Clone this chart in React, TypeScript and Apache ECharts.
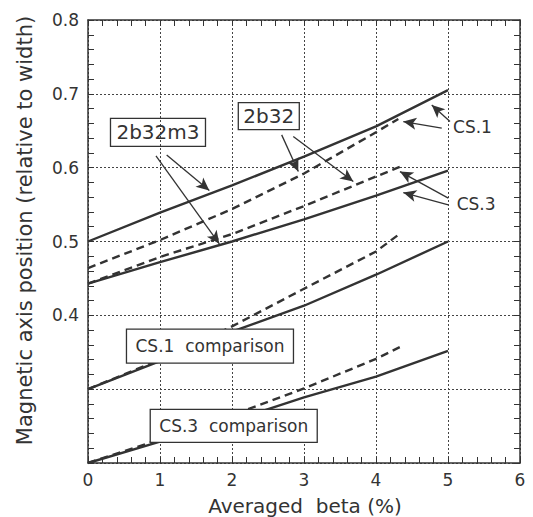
import React, { useEffect, useRef } from "react";
import * as echarts from "echarts";

// ---- data ----
const betaFull = [0, 1, 2, 3, 4, 5];
const cs1_2b32m3 = [0.5, 0.539, 0.576, 0.615, 0.656, 0.705];
const cs1_2b32_beta = [0, 1, 2, 3, 4, 4.31];
const cs1_2b32 = [0.464, 0.502, 0.544, 0.592, 0.648, 0.666];
const cs3_2b32m3 = [0.443, 0.472, 0.5, 0.53, 0.562, 0.596];
const cs3_2b32_beta = [0, 1, 2, 3, 4, 4.33];
const cs3_2b32 = [0.443, 0.479, 0.51, 0.548, 0.588, 0.601];
const cs1cmp_solid = [0.3, 0.338, 0.378, 0.413, 0.455, 0.5];
const cs1cmp_dashed = [0.3, 0.34, 0.385, 0.436, 0.4865, 0.509];
const cs3cmp_solid = [0.2, 0.229, 0.257, 0.289, 0.317, 0.352];
const cs3cmp_dashed = [0.2, 0.232, 0.265, 0.301, 0.341, 0.357];

const yLabelled = [0.4, 0.5, 0.6, 0.7, 0.8];

const xTitle = "Averaged  beta (%)";
const yTitle = "Magnetic axis position (relative to width)";

// annotation anchors, in data coordinates
const boxLabels = [
  { text: "2b32m3", at: [0.972, 0.6478] },
  { text: "2b32", at: [2.511, 0.6697] },
  { text: "CS.1  comparison", at: [1.694, 0.3584] },
  { text: "CS.3  comparison", at: [2.024, 0.2502] },
];
const freeLabels = [
  { text: "CS.1", at: [5.07, 0.6556] },
  { text: "CS.3", at: [5.12, 0.551] },
];
const arrows: number[][][] = [
  [[1.093, 0.6173], [1.685, 0.569]],
  [[0.944, 0.616], [1.824, 0.4969]],
  [[2.69, 0.6444], [2.921, 0.5947]],
  [[2.851, 0.6421], [3.685, 0.5812]],
  [[5.028, 0.6624], [4.774, 0.685]],
  [[4.913, 0.6535], [4.379, 0.6624]],
  [[5.004, 0.5587], [4.333, 0.5947]],
  [[5.004, 0.5497], [4.379, 0.5663]],
];

const FONT = "DejaVu Sans";
const INK = "#333";

function pairs(xs: number[], ys: number[]) {
  return xs.map((x, i) => [x, ys[i]]);
}

export default function App() {
  const ref = useRef<HTMLDivElement>(null);
  useEffect(() => {
    if (!ref.current) return;
    const chart = echarts.init(ref.current, null, { renderer: "svg" });

    const solid = { color: INK, width: 2.4, type: "solid" as const };
    const dashed = { color: INK, width: 2.4, type: [8, 5] as any };
    const mk = (name: string, data: number[][], ls: any, extra: any = {}) => ({
      type: "line",
      name,
      data,
      showSymbol: false,
      symbol: "none",
      lineStyle: ls,
      itemStyle: { color: INK },
      z: 3,
      ...extra,
    });

    const baseX = {
      type: "value",
      min: 0,
      max: 6,
      interval: 1,
      axisLine: { show: true, onZero: false, lineStyle: { color: INK, width: 1.5 } },
      axisTick: { show: true, inside: true, length: 6, lineStyle: { color: INK, width: 1 } },
      minorTick: { show: true, splitNumber: 5, length: 6, lineStyle: { color: INK, width: 1 } },
    };
    const baseY = {
      type: "value",
      min: 0.2,
      max: 0.8,
      interval: 0.1,
      axisLine: { show: true, onZero: false, lineStyle: { color: INK, width: 1.5 } },
      axisTick: { show: true, inside: true, length: 6, lineStyle: { color: INK, width: 1 } },
      minorTick: { show: true, splitNumber: 5, length: 6, lineStyle: { color: INK, width: 1 } },
    };
    const grid = { type: [2, 2] as any, color: "#444", width: 1 };

    chart.setOption({
      animation: false,
      backgroundColor: "#fff",
      grid: { left: 88, right: 13, top: 20, bottom: 54, containLabel: false },
      xAxis: [
        {
          ...baseX,
          position: "bottom",
          splitLine: { show: true, lineStyle: grid },
          axisLabel: { fontSize: 17, color: INK, fontFamily: FONT, margin: 8 },
        },
        { ...baseX, position: "top", axisLabel: { show: false }, splitLine: { show: false } },
      ],
      yAxis: [
        {
          ...baseY,
          position: "left",
          splitLine: { show: true, lineStyle: grid },
          axisLabel: {
            fontSize: 17,
            color: INK,
            fontFamily: FONT,
            margin: 9,
            formatter: (v: number) => {
              const s = v.toFixed(1);
              return yLabelled.some((t) => t.toFixed(1) === s) ? s : "";
            },
          },
        },
        { ...baseY, position: "right", axisLabel: { show: false }, splitLine: { show: false } },
      ],
      series: [
        mk("CS.1 2b32m3", pairs(betaFull, cs1_2b32m3), solid, {
          markLine: {
            silent: true,
            symbol: ["none", "arrow"],
            symbolSize: [9, 13],
            label: { show: false },
            lineStyle: { color: INK, width: 1.3, type: "solid" },
            data: arrows.map((a) => [
              { coord: a[0], symbol: "none" },
              { coord: a[1], symbol: "arrow" },
            ]),
          },
        }),
        mk("CS.1 2b32", pairs(cs1_2b32_beta, cs1_2b32), dashed),
        mk("CS.3 2b32m3", pairs(betaFull, cs3_2b32m3), solid),
        mk("CS.3 2b32", pairs(cs3_2b32_beta, cs3_2b32), dashed),
        mk("CS.1 comparison solid", pairs(betaFull, cs1cmp_solid), solid),
        mk("CS.1 comparison dashed", pairs(cs1_2b32_beta, cs1cmp_dashed), dashed),
        mk("CS.3 comparison solid", pairs(betaFull, cs3cmp_solid), solid),
        mk("CS.3 comparison dashed", pairs(cs3_2b32_beta, cs3cmp_dashed), dashed),
      ],
    });

    const px = (p: number[]) => chart.convertToPixel({ xAxisIndex: 0, yAxisIndex: 0 }, p) as number[];
    const boxSizes: Record<string, { w: number; h: number; fill: string; fs: number }> = {
      "2b32m3": { w: 95, h: 28, fill: "transparent", fs: 20 },
      "2b32": { w: 61, h: 27, fill: "transparent", fs: 20 },
      "CS.1  comparison": { w: 167, h: 34, fill: "#fff", fs: 17 },
      "CS.3  comparison": { w: 167, h: 33, fill: "#fff", fs: 17 },
    };
    const graphics: any[] = [];
    boxLabels.forEach((b) => {
      const [cx, cy] = px(b.at);
      const s = boxSizes[b.text];
      graphics.push({
        type: "rect",
        z: 100,
        shape: { x: cx - s.w / 2, y: cy - s.h / 2, width: s.w, height: s.h },
        style: { fill: s.fill, stroke: INK, lineWidth: 1.3 },
      });
      graphics.push({
        type: "text",
        z: 101,
        x: cx,
        y: cy,
        style: { text: b.text, fontSize: s.fs, fontFamily: FONT, fill: INK, align: "center", verticalAlign: "middle" },
      });
    });
    freeLabels.forEach((l) => {
      const [x, y] = px(l.at);
      graphics.push({
        type: "text",
        z: 101,
        x,
        y,
        style: { text: l.text, fontSize: 17, fontFamily: FONT, fill: INK, align: "left", verticalAlign: "middle" },
      });
    });
    const [x0, yb] = px([0, 0.2]);
    const [x6, yt] = px([6, 0.8]);
    graphics.push({
      type: "text",
      z: 101,
      x: (x0 + x6) / 2 + 1,
      y: yb + 43,
      style: { text: xTitle, fontSize: 20, fontFamily: FONT, fill: INK, align: "center", verticalAlign: "middle" },
    });
    graphics.push({
      type: "text",
      z: 101,
      x: 24.5,
      y: (yb + yt) / 2 - 11,
      rotation: Math.PI / 2,
      style: { text: yTitle, fontSize: 21, fontFamily: FONT, fill: INK, align: "center", verticalAlign: "middle" },
    });
    chart.setOption({ graphic: graphics });

    return () => chart.dispose();
  }, []);
  return (
    <div
      ref={ref}
      style={{ position: "fixed", left: 0, top: 0, width: 533, height: 517, background: "#fff" }}
    />
  );
}
